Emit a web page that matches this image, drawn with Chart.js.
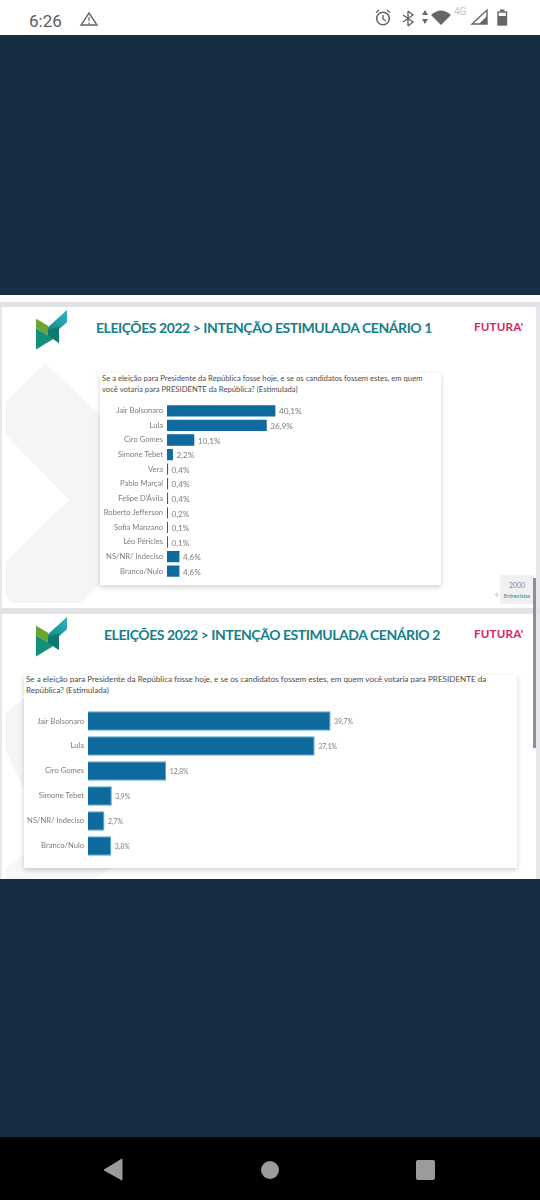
<!DOCTYPE html>
<html lang="pt-BR">
<head>
<meta charset="utf-8">
<title>Eleições 2022</title>
<script src="https://cdn.jsdelivr.net/npm/chart.js@4"></script>
<style>
  html, body { margin: 0; padding: 0; }
  body { width: 540px; height: 1200px; position: relative; overflow: hidden; background: #172d44; font-family: Lato, sans-serif; }
  .abs, canvas, svg { position: absolute; }
  .txt { position: absolute; white-space: nowrap; line-height: 1; }
  .statusbar { left: 0; top: 0; width: 540px; height: 35px; background: #fff; }
  .navbar { left: 0; top: 1137px; width: 540px; height: 63px; background: #000; }
  .sheet { left: 0; top: 295px; width: 540px; height: 584px; background: #e6e7ea; }
  .slide { left: 2px; width: 534px; background: #fff; }
  .band { left: 0; width: 540px; background: #e2e3e7; }
  .card { background: #fff; box-shadow: 0 2px 5px rgba(0,0,0,.2); }
  .title { font-weight: 700; color: #14808a; font-size: 14px; letter-spacing: -.44px; }
  .futura { font-weight: 700; color: #d6265f; font-size: 11.6px; letter-spacing: .2px; }
  .question { color: #4d4d4d; line-height: 10.6px; white-space: normal; }
</style>
</head>
<body>
<div class="abs statusbar"></div>
<div class="txt" style="left:29px;top:11px;font:17px Roboto;color:#5c5c5c">6:26</div>
<svg style="left:0;top:0" width="540" height="35">
  <path d="M89 13 L97 25 L81 25 Z" fill="none" stroke="#666" stroke-width="1.4"/>
  <path d="M89 17 V21 M89 22.5 V24" stroke="#666" stroke-width="1.2"/>
  <circle cx="383" cy="18.5" r="6.3" fill="none" stroke="#666" stroke-width="1.6"/>
  <path d="M383 15 V19 L386 21 M376 12.5 L379 10 M390 12.5 L387 10" fill="none" stroke="#666" stroke-width="1.4"/>
  <path d="M408 11 L413 15 L403 22 M408 26 L413 22 L403 15 M408 11 V26" fill="none" stroke="#666" stroke-width="1.4"/>
  <path d="M425 10 L428 15 H422 Z M425 24 L428 19 H422 Z" fill="#666"/>
  <path d="M431 15 Q441 6 451 15 L441 25 Z" fill="#666"/>
  <path d="M487 10 V24 H472 Z" fill="none" stroke="#666" stroke-width="1.4"/>
  <path d="M487 16 V24 H479 Z" fill="#666"/>
  <rect x="498" y="12" width="8.5" height="13" fill="#fff" stroke="#666" stroke-width="1.4"/>
  <rect x="500" y="9.5" width="4.5" height="2" fill="#666"/>
  <rect x="498" y="16" width="8.5" height="9" fill="#666"/>
</svg>
<div class="txt" style="left:454px;top:6px;font:10px Roboto;color:#c4c4c4">4G</div>

<div class="abs sheet"></div>
<div class="abs" style="left:0;top:295px;width:540px;height:7px;background:#fdfdfe"></div>
<div class="abs band" style="top:302px;height:5px"></div>
<div class="abs slide" style="top:307px;height:301px"></div>
<div class="abs band" style="top:608px;height:6px"></div>
<div class="abs slide" style="top:614px;height:265px"></div>

<svg style="left:0;top:0;width:540px;height:900px">
  <path d="M45 363 L6 402 V435 L69 500 L6 562 V593 Q6 603 16 603 H80 L100 585 V415 Z" fill="#f5f5f6"/>
  <path d="M6 713 L24 698 V790 L6 750 Z" fill="#f5f5f6"/>
  <path d="M6 879 V868 L24 855 V868 H110 L95 879 Z" fill="#f7f7f8"/>
</svg>

<svg style="left:34px;top:309px" width="36" height="48" id="logo1">
  <defs>
    <linearGradient id="g1" x1="0" y1="1" x2="1" y2="0"><stop offset="0" stop-color="#0f7f78"/><stop offset="1" stop-color="#2db2c4"/></linearGradient>
  </defs>
  <g transform="scale(1,.88)">
    <path d="M33 1 V15 L15 33 L11 24 Z" fill="url(#g1)"/>
    <path d="M2 11 L14 19 L14 30 L2 22 Z" fill="#6da52f"/>
    <path d="M2 22 L14 30 L25 20 V30 L2 46 Z" fill="#129178"/>
    <path d="M14 24 L25 20 L25 30 V39 L14 30 Z" fill="#0f7a6f"/>
  </g>
</svg>
<svg style="left:34px;top:616px" width="36" height="48">
  <g transform="scale(1,.88)">
    <path d="M33 1 V15 L15 33 L11 24 Z" fill="url(#g1)"/>
    <path d="M2 11 L14 19 L14 30 L2 22 Z" fill="#6da52f"/>
    <path d="M2 22 L14 30 L25 20 V30 L2 46 Z" fill="#129178"/>
    <path d="M14 24 L25 20 L25 30 V39 L14 30 Z" fill="#0f7a6f"/>
  </g>
</svg>

<div class="txt title" style="left:96px;top:321px" id="title1"></div>
<div class="txt futura" style="left:474px;top:321px">FUTURA'</div>
<div class="abs card" style="left:100px;top:373px;width:341px;height:212px"></div>
<div class="txt question" id="q1" style="left:102px;top:373px;width:325px;font-size:7.7px"></div>
<canvas id="chart-cenario-1" style="left:100px;top:395px"></canvas>

<div class="abs" style="left:500px;top:575px;width:34px;height:29px;background:#f0f0f1"></div>
<div class="txt" style="left:495px;top:592px;font-size:6px;color:#aaa">9</div>
<div class="txt" style="left:500px;top:582px;width:34px;text-align:center;font-size:7px;color:#8a8a8a">2000</div>
<div class="txt" style="left:500px;top:594px;width:34px;text-align:center;font-size:5.5px;color:#2a8a8a">Entrevistas</div>

<div class="txt title" style="left:104px;top:628px" id="title2"></div>
<div class="txt futura" style="left:474px;top:628px">FUTURA'</div>
<div class="abs card" style="left:24px;top:675px;width:493px;height:193px"></div>
<div class="txt question" id="q2" style="left:26px;top:674px;width:470px;font-size:8.1px"></div>
<canvas id="chart-cenario-2" style="left:24px;top:700px"></canvas>

<div class="abs" style="left:533px;top:578px;width:3px;height:170px;background:#8f8f93"></div>

<div class="abs navbar"></div>
<svg style="left:0;top:1137px" width="540" height="63">
  <path d="M122 22 V43 L104 33 Z" fill="#9b9b9b" stroke="#9b9b9b" stroke-linejoin="round"/>
  <circle cx="270" cy="33" r="9" fill="#9b9b9b"/>
  <rect x="416" y="23" width="19" height="20" rx="2" fill="#9b9b9b"/>
</svg>

<script>
const TITLE_1 = 'ELEIÇÕES 2022 > INTENÇÃO ESTIMULADA CENÁRIO 1';
const TITLE_2 = 'ELEIÇÕES 2022 > INTENÇÃO ESTIMULADA CENÁRIO 2';
const QUESTION = 'Se a eleição para Presidente da República fosse hoje, e se os candidatos fossem estes, em quem você votaria para PRESIDENTE da República? (Estimulada)';

const CANDIDATES_1 = ['Jair Bolsonaro', 'Lula', 'Ciro Gomes', 'Simone Tebet', 'Vera', 'Pablo Marçal', "Felipe D'Ávila", 'Roberto Jefferson', 'Sofia Manzano', 'Léo Péricles', 'NS/NR/ Indeciso', 'Branco/Nulo'];
const VALUES_1 = [40.1, 36.9, 10.1, 2.2, 0.4, 0.4, 0.4, 0.2, 0.1, 0.1, 4.6, 4.6];

const CANDIDATES_2 = ['Jair Bolsonaro', 'Lula', 'Ciro Gomes', 'Simone Tebet', 'NS/NR/ Indeciso', 'Branco/Nulo'];
const VALUES_2 = [39.7, 37.1, 12.8, 3.9, 2.7, 3.8];

const BAR_BLUE = '#0f6a9e';
const LABEL_GREY = '#7d7d7d';

const valueLabels = {
  id: 'valueLabels',
  afterDatasetsDraw(chart, args, opts) {
    const { ctx } = chart;
    const meta = chart.getDatasetMeta(0);
    ctx.save();
    ctx.font = `${opts.size}px Lato`;
    ctx.fillStyle = LABEL_GREY;
    ctx.textBaseline = 'middle';
    meta.data.forEach((bar, i) => {
      const text = chart.data.datasets[0].data[i].toFixed(1).replace('.', ',') + '%';
      ctx.fillText(text, bar.x + opts.gap, bar.y + 1);
    });
    ctx.restore();
  },
};

function drawChart(id, labels, values, cfg) {
  const canvas = document.getElementById(id);
  canvas.width = cfg.width;
  canvas.height = cfg.height;
  new Chart(canvas, {
    type: 'bar',
    plugins: [valueLabels],
    data: {
      labels,
      datasets: [{
        data: values,
        backgroundColor: BAR_BLUE,
        borderColor: cfg.border,
        borderWidth: cfg.border ? 1 : 0,
        barPercentage: cfg.barPct,
        categoryPercentage: 1,
        minBarLength: 1,
      }],
    },
    options: {
      indexAxis: 'y',
      responsive: false,
      animation: false,
      layout: { padding: 0, autoPadding: false },
      plugins: {
        legend: { display: false },
        tooltip: { enabled: false },
        valueLabels: { size: cfg.valueSize, gap: 3.5 },
      },
      scales: {
        x: { display: false, min: 0, max: cfg.max },
        y: {
          afterFit: (axis) => { axis.width = cfg.axisWidth; },
          grid: { display: false, drawTicks: false },
          border: { display: false },
          ticks: { color: LABEL_GREY, padding: 4, autoSkip: false, font: { family: 'Lato', size: cfg.tickSize } },
        },
      },
    },
  });
}

document.getElementById('title1').textContent = TITLE_1;
document.getElementById('title2').textContent = TITLE_2;
document.getElementById('q1').textContent = QUESTION;
document.getElementById('q2').textContent = QUESTION;

drawChart('chart-cenario-1', CANDIDATES_1, VALUES_1, {
  width: 340, height: 192, axisWidth: 67, max: 101, barPct: 0.78, tickSize: 7.6, valueSize: 8.2,
});
drawChart('chart-cenario-2', CANDIDATES_2, VALUES_2, {
  width: 493, height: 167, axisWidth: 64, max: 70.2, barPct: 0.78, tickSize: 7.6, valueSize: 6.8, border: '#5aa6cf',
});
</script>
</body>
</html>
